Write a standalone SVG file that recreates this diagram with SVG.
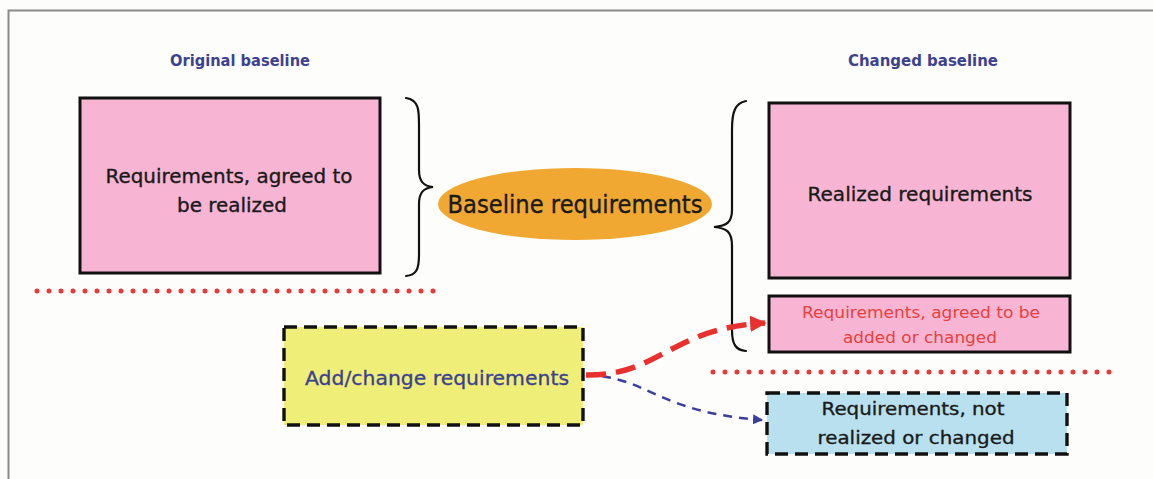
<svg xmlns="http://www.w3.org/2000/svg" width="1153" height="479" viewBox="0 0 1153 479">
  <defs>
    <style>
      .t { font-family: "DejaVu Sans", "Noto Sans CJK JP", sans-serif; text-anchor: middle; }
      .body { fill: #1a1a1a; stroke: #1a1a1a; stroke-width: 0.35; }
      .head { font-size: 15px; font-weight: bold; fill: #3d4290; }
      .solid { stroke: #111; stroke-width: 3; }
      .dash { stroke: #111; stroke-width: 3.4; stroke-dasharray: 13 7; }
      .pink { fill: #f7b5d3; }
      .brace { fill: none; stroke: #111; stroke-width: 2.2; stroke-linecap: round; }
      .dots { fill: none; stroke: #e53a3a; stroke-width: 5; stroke-linecap: round; stroke-dasharray: 0 12; }
    </style>
    <marker id="arrowRed" viewBox="0 0 10 10" refX="9" refY="5" markerWidth="3" markerHeight="3.2" orient="auto" markerUnits="strokeWidth">
      <path d="M0,0 L10,5 L0,10 z" fill="#e8302f"/>
    </marker>
    <marker id="arrowBlue" viewBox="0 0 10 10" refX="9" refY="5" markerWidth="4" markerHeight="4" orient="auto" markerUnits="strokeWidth">
      <path d="M0,0 L10,5 L0,10 z" fill="#3b3f9c"/>
    </marker>
  </defs>

  <rect width="1153" height="479" fill="#fdfdfb"/>
  <!-- frame lines -->
  <path d="M8.5,479 L8.5,10.5 L1153,10.5" fill="none" stroke="#8a8a86" stroke-width="2"/>

  <!-- section headings -->
  <text class="t head" x="240" y="66" textLength="140" lengthAdjust="spacingAndGlyphs">Original baseline</text>
  <text class="t head" x="923" y="66" textLength="150" lengthAdjust="spacingAndGlyphs">Changed baseline</text>

  <!-- separators -->
  <path class="dots" d="M37,291 L440,291"/>
  <path class="dots" d="M713,372 L1118,372"/>

  <!-- braces -->
  <path class="brace" d="M406,98 C420,100 419,112 419,130 L419,170 C419,182 424,186 433,187 C424,188 419,192 419,204 L419,255 C419,270 416,275 406,276"/>
  <path class="brace" d="M746,101 C735,103 732,112 732,130 L732,210 C732,222 727,226 714,227 C727,228 732,232 732,246 L732,330 C732,345 736,350 746,351"/>

  <g id="node-agreed">
    <rect class="pink solid" x="80" y="98" width="300" height="175"/>
    <text class="t body" font-size="20" x="229" y="183" textLength="247" lengthAdjust="spacingAndGlyphs">Requirements, agreed to</text>
    <text class="t body" font-size="20" x="232" y="212" textLength="110" lengthAdjust="spacingAndGlyphs">be realized</text>
  </g>

  <g id="node-baseline">
    <ellipse cx="575" cy="204" rx="137" ry="36" fill="#f0a833"/>
    <text class="t body" font-size="24" stroke-width="0.6" x="575" y="213" textLength="255" lengthAdjust="spacingAndGlyphs">Baseline requirements</text>
  </g>

  <g id="node-realized">
    <rect class="pink solid" x="769" y="103" width="301" height="175"/>
    <text class="t body" font-size="20" x="920" y="201" textLength="225" lengthAdjust="spacingAndGlyphs">Realized requirements</text>
  </g>

  <g id="node-added">
    <rect class="pink solid" x="769" y="296" width="301" height="56"/>
    <text class="t" font-size="16.5" fill="#e8403c" x="921" y="318" textLength="238" lengthAdjust="spacingAndGlyphs">Requirements, agreed to be</text>
    <text class="t" font-size="16.5" fill="#e8403c" x="920" y="343" textLength="154" lengthAdjust="spacingAndGlyphs">added or changed</text>
  </g>

  <g id="node-change">
    <rect class="dash" x="284" y="327" width="299" height="98" fill="#eeee78"/>
    <text class="t" font-size="20" fill="#3c4090" stroke="#3c4090" stroke-width="0.3" x="437" y="385" textLength="264" lengthAdjust="spacingAndGlyphs">Add/change requirements</text>
  </g>

  <g id="node-not-realized">
    <rect class="dash" x="767" y="393" width="300" height="61" fill="#b9e0ef"/>
    <text class="t body" font-size="18.5" stroke-width="0.2" x="913" y="415" textLength="183" lengthAdjust="spacingAndGlyphs">Requirements, not</text>
    <text class="t body" font-size="18.5" stroke-width="0.2" x="916" y="444" textLength="197" lengthAdjust="spacingAndGlyphs">realized or changed</text>
  </g>

  <g id="connectors">
    <path d="M586,375 C650,377 655,412 762,420" fill="none" stroke="#3b3f9c" stroke-width="2.5" stroke-dasharray="9 7" marker-end="url(#arrowBlue)"/>
    <path d="M586,375 C660,376 670,328 765,323" fill="none" stroke="#e8302f" stroke-width="5.5" stroke-dasharray="20 10" marker-end="url(#arrowRed)"/>
  </g>
</svg>
